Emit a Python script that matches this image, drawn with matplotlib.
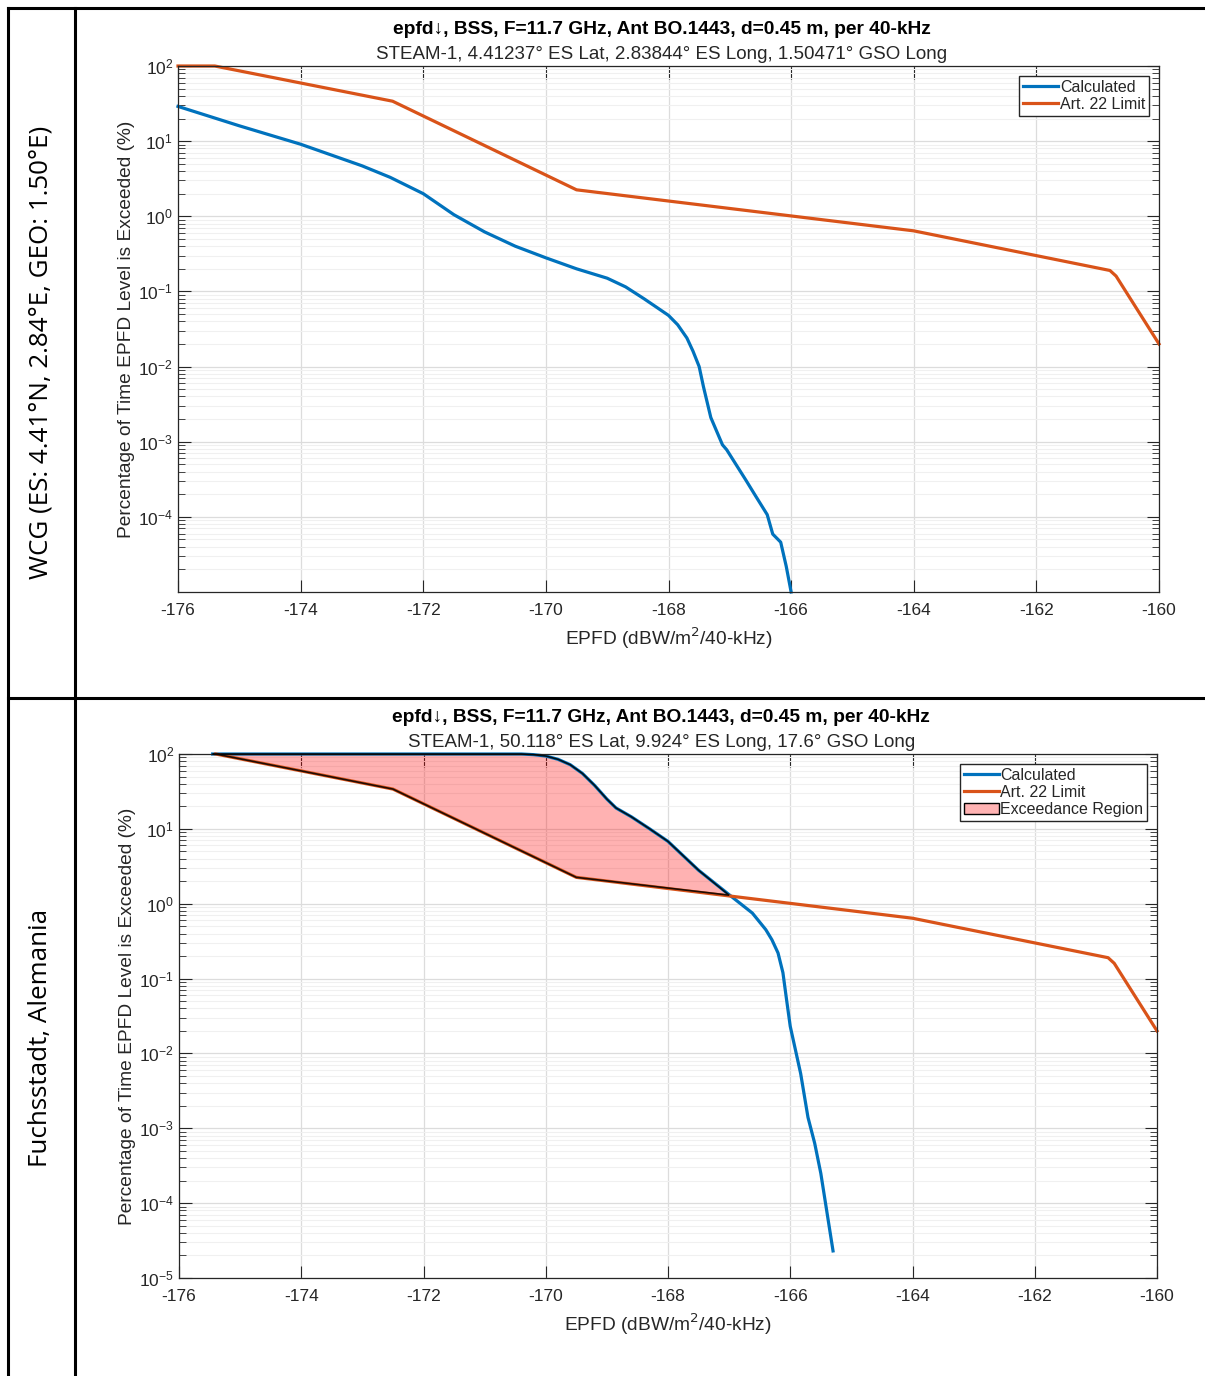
import matplotlib

matplotlib.use("Agg")
import matplotlib.pyplot as plt
from matplotlib.lines import Line2D
from matplotlib.patches import Patch
from matplotlib.ticker import LogLocator, NullFormatter

plt.rcParams.update({
    "font.family": ["Liberation Sans", "DejaVu Sans"],
    "font.size": 12,
    "text.color": "#262626",
    "axes.labelcolor": "#262626",
    "xtick.color": "#262626",
    "ytick.color": "#262626",
    "axes.unicode_minus": False,
})

BLUE = "#0072BD"
ORANGE = "#D95319"

# --- top panel (WCG) ---
top_calc_x = [-176.0, -175.0, -174.0, -173.0, -172.54, -172.0, -171.5, -171.0, -170.5,
              -170.0, -169.5, -169.0, -168.7, -168.4, -168.2, -168.0, -167.85, -167.7,
              -167.6, -167.5, -167.43, -167.31, -167.12, -167.05, -166.74, -166.58,
              -166.39, -166.3, -166.17, -166.08, -166.0]
top_calc_y = [29, 16, 9.1, 4.7, 3.3, 2.0, 1.05, 0.62, 0.40,
              0.28, 0.20, 0.15, 0.115, 0.080, 0.062, 0.048, 0.036, 0.024,
              0.016, 0.010, 0.0054, 0.0021, 9.1e-4, 7.8e-4, 3.1e-4, 1.9e-4,
              1.07e-4, 5.9e-5, 4.6e-5, 2.2e-5, 1e-5]
top_lim_x = [-176.0, -175.4, -172.5, -169.5, -164.0, -160.8, -160.7, -160.0]
top_lim_y = [100, 100, 34, 2.25, 0.64, 0.19, 0.16, 0.02]

# --- bottom panel (Fuchsstadt) ---
bot_calc_x = [-175.45, -170.4, -170.2, -170.0, -169.8, -169.6, -169.4, -169.2, -169.0,
              -168.85, -168.6, -168.3, -168.0, -167.5, -167.0, -166.62, -166.4,
              -166.3, -166.2, -166.12, -166.06, -166.0, -165.83, -165.71, -165.6,
              -165.5, -165.3]
bot_calc_y = [100, 100, 98, 94, 85, 72, 55, 38, 25,
              19, 14.5, 10, 6.8, 2.8, 1.32, 0.75, 0.45,
              0.33, 0.22, 0.12, 0.052, 0.023, 0.0054, 0.0014, 6.3e-4,
              2.5e-4, 2.3e-5]
bot_lim_x = [-175.4, -172.5, -169.5, -164.0, -160.8, -160.7, -160.0]
bot_lim_y = [100, 34, 2.25, 0.64, 0.19, 0.16, 0.02]
cross_x, cross_y = -167.0, 1.3  # where the calculated curve meets the limit

TITLE = "epfd\u2193, BSS, F=11.7 GHz, Ant BO.1443, d=0.45 m, per 40-kHz"
SUB_TOP = "STEAM-1, 4.41237\u00b0 ES Lat, 2.83844\u00b0 ES Long, 1.50471\u00b0 GSO Long"
SUB_BOT = "STEAM-1, 50.118\u00b0 ES Lat, 9.924\u00b0 ES Long, 17.6\u00b0 GSO Long"
ROW_TOP = "WCG (ES: 4.41\u00b0N, 2.84\u00b0E, GEO: 1.50\u00b0E)"
ROW_BOT = "Fuchsstadt, Alemania"
XTICKS = [-176, -174, -172, -170, -168, -166, -164, -162, -160]


def style_axes(ax, subtitle, yticks):
    ax.set_yscale("log")
    ax.set_xlim(-176, -160)
    ax.set_ylim(1e-5, 1e2)
    ax.set_xticks(XTICKS)
    ax.set_yticks(yticks)
    ax.yaxis.set_minor_locator(LogLocator(base=10, subs=range(2, 10), numticks=20))
    ax.yaxis.set_minor_formatter(NullFormatter())
    ax.tick_params(which="both", direction="in", top=True, right=True, labelsize=12.5)
    ax.tick_params(which="major", length=9, width=0.8)
    ax.tick_params(which="minor", length=5, width=0.6)
    ax.tick_params(axis="x", pad=8)
    ax.grid(True, which="major", color="#dcdcdc", linewidth=0.9)
    ax.grid(True, which="minor", axis="y", color="#f0f0f0", linewidth=0.8)
    ax.set_axisbelow(True)
    for s in ax.spines.values():
        s.set_color("#262626")
        s.set_linewidth(0.9)
    ax.set_xlabel("EPFD (dBW/m$^2$/40-kHz)", fontsize=13.8, labelpad=5)
    ax.set_ylabel("Percentage of Time EPFD Level is Exceeded (%)", fontsize=13.8, labelpad=2)
    ax.text(0.493, 1.07, TITLE, transform=ax.transAxes, ha="center", va="center",
            fontsize=13.8, fontweight="bold", color="black")
    ax.text(0.493, 1.022, subtitle, transform=ax.transAxes, ha="center", va="center",
            fontsize=13.5, color="#262626")


fig = plt.figure(figsize=(12.05, 13.76), dpi=100)

# table frame
W, H = 1205, 1376
line_kw = dict(color="black", linewidth=2.2, transform=fig.transFigure)
fig.add_artist(Line2D([8 / W, 1], [1 - 8 / H, 1 - 8 / H], **line_kw))
fig.add_artist(Line2D([8 / W, 1], [1 - 698 / H, 1 - 698 / H], **line_kw))
fig.add_artist(Line2D([8 / W, 8 / W], [0, 1 - 8 / H], **line_kw))
fig.add_artist(Line2D([75 / W, 75 / W], [0, 1 - 8 / H], **line_kw))
fig.text(41 / W, 1 - 352 / H, ROW_TOP, rotation=90, ha="center", va="center",
         fontsize=18.7, family=["Open Sans", "DejaVu Sans"], color="black")
fig.text(41 / W, 1 - 1038 / H, ROW_BOT, rotation=90, ha="center", va="center",
         fontsize=18.7, family=["Open Sans", "DejaVu Sans"], color="black")

# top chart
ax1 = fig.add_axes([178 / W, 1 - 592 / H, 981 / W, 526 / H])
ax1.plot(top_calc_x, top_calc_y, color=BLUE, linewidth=2.3, label="Calculated", clip_on=False)
ax1.plot(top_lim_x, top_lim_y, color=ORANGE, linewidth=2.3, label="Art. 22 Limit", clip_on=False)
style_axes(ax1, SUB_TOP, [1e-4, 1e-3, 1e-2, 1e-1, 1, 10, 100])
ax1.legend(loc="upper right", fontsize=11.5, frameon=True, fancybox=False,
           edgecolor="#262626", framealpha=1, borderpad=0.25, handlelength=2.2,
           handletextpad=0.1, labelspacing=0.15, borderaxespad=0.6)

# bottom chart
ax2 = fig.add_axes([179 / W, 1 - 1278 / H, 978 / W, 524 / H])
ax2.plot(bot_calc_x, bot_calc_y, color=BLUE, linewidth=2.3, clip_on=False)
ax2.plot(bot_lim_x, bot_lim_y, color=ORANGE, linewidth=2.3, clip_on=False)
poly_x = [x for x in bot_calc_x if x < cross_x] + [cross_x] + \
         [x for x in bot_lim_x if x < cross_x][::-1]
poly_y = [y for x, y in zip(bot_calc_x, bot_calc_y) if x < cross_x] + [cross_y] + \
         [y for x, y in zip(bot_lim_x, bot_lim_y) if x < cross_x][::-1]
ax2.fill(poly_x, poly_y, facecolor="red", alpha=0.3, edgecolor="none", clip_on=False, zorder=1.5)
ax2.fill(poly_x, poly_y, facecolor="none", edgecolor="black", linewidth=1.2, clip_on=False,
         zorder=3, alpha=0.85)
style_axes(ax2, SUB_BOT, [1e-5, 1e-4, 1e-3, 1e-2, 1e-1, 1, 10, 100])
handles = [
    Line2D([], [], color=BLUE, linewidth=2.3),
    Line2D([], [], color=ORANGE, linewidth=2.3),
    Patch(facecolor="#ffb3b3", edgecolor="black", linewidth=1.0),
]
ax2.legend(handles, ["Calculated", "Art. 22 Limit", "Exceedance Region"],
           loc="upper right", fontsize=11.5, frameon=True, fancybox=False,
           edgecolor="#262626", framealpha=1, borderpad=0.25, handlelength=2.2,
           handletextpad=0.1, labelspacing=0.15, borderaxespad=0.6)

fig.savefig("out.png", dpi=100)
